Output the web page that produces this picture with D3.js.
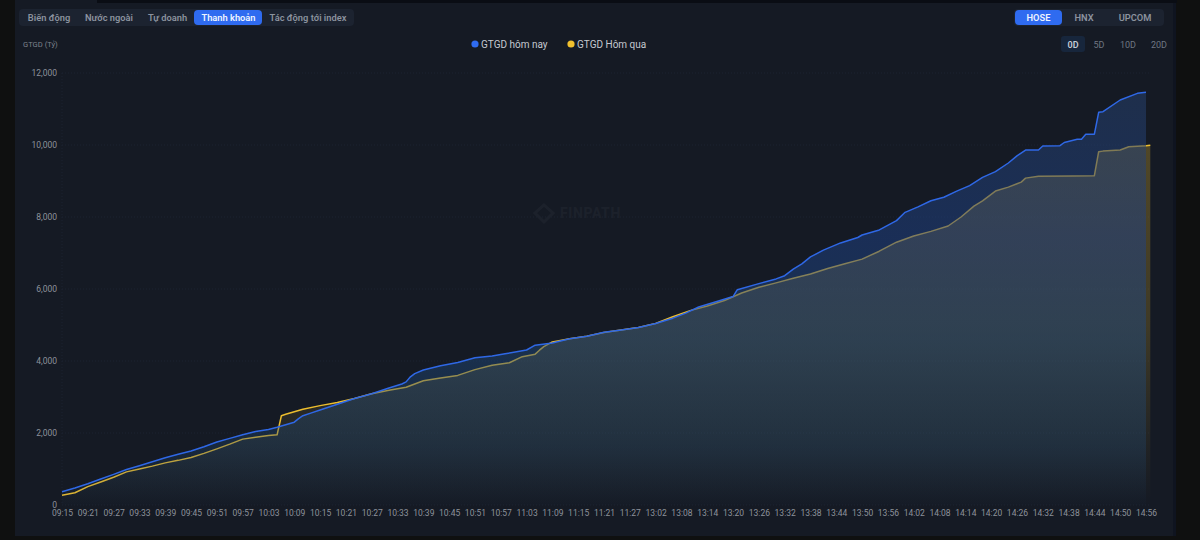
<!DOCTYPE html>
<html>
<head>
<meta charset="utf-8">
<script src="https://cdn.jsdelivr.net/npm/d3@7/dist/d3.min.js"></script>
<style>
html,body{margin:0;padding:0;background:#0f1010;width:1200px;height:540px;overflow:hidden}
svg{display:block;font-family:Roboto,"Noto Sans",sans-serif}
</style>
</head>
<body>
<svg id="chart" width="1200" height="540"></svg>
<script>
// Trading-session clock labels shown along the axis
const xTickLabels = ["09:15","09:21","09:27","09:33","09:39","09:45","09:51","09:57","10:03","10:09","10:15","10:21","10:27","10:33","10:39","10:45","10:51","10:57","11:03","11:09","11:15","11:21","11:27","13:02","13:08","13:14","13:20","13:26","13:32","13:38","13:44","13:50","13:56","14:02","14:08","14:14","14:20","14:26","14:32","14:38","14:44","14:50","14:56"];
const yTickValues = [0,2000,4000,6000,8000,10000,12000];

// Cumulative traded value today (billion VND)
const todayTimes = ["09:15","09:18","09:21","09:24","09:27","09:30","09:33","09:36","09:39","09:42","09:45","09:48","09:51","09:54","09:57","10:00","10:03","10:05","10:07","10:09","10:10","10:11","10:13","10:15","10:19","10:23","10:27","10:31","10:34","10:35","10:36","10:37","10:39","10:43","10:47","10:51","10:55","10:58","11:03","11:05","11:09","11:13","11:17","11:21","11:25","11:29","13:02","13:06","13:09","13:12","13:17","13:20","13:21","13:26","13:30","13:32","13:34","13:36","13:38","13:41","13:45","13:49","13:50","13:54","13:58","14:00","14:03","14:06","14:09","14:12","14:15","14:18","14:21","14:24","14:26","14:28","14:31","14:32","14:36","14:37","14:40","14:41","14:42","14:44","14:45","14:46","14:50","14:54","14:56"];
const todayValues = [370,470,590,720,850,985,1090,1200,1310,1410,1500,1620,1750,1850,1950,2040,2100,2160,2230,2300,2400,2480,2560,2640,2800,2960,3090,3250,3361,3420,3560,3650,3750,3870,3960,4090,4140,4200,4305,4440,4500,4620,4690,4800,4860,4930,5040,5190,5330,5500,5680,5790,5980,6150,6280,6370,6550,6700,6890,7080,7280,7430,7500,7640,7900,8130,8280,8450,8550,8720,8870,9100,9260,9500,9700,9860,9861,9972,9981,10070,10157,10160,10296,10300,10908,10926,11250,11435,11463];

// Cumulative traded value in the previous session (billion VND)
const yesterdayTimes = ["09:15","09:18","09:21","09:24","09:27","09:30","09:33","09:36","09:39","09:42","09:45","09:48","09:51","09:54","09:57","10:00","10:03","10:05","10:06","10:07","10:09","10:11","10:15","10:19","10:23","10:27","10:31","10:35","10:39","10:43","10:47","10:51","10:55","10:59","11:02","11:05","11:06","11:07","11:09","11:13","11:17","11:21","11:25","11:29","13:02","13:06","13:10","13:14","13:18","13:22","13:26","13:30","13:34","13:38","13:42","13:46","13:50","13:54","13:58","14:02","14:06","14:10","14:13","14:16","14:18","14:21","14:24","14:27","14:28","14:31","14:39","14:44","14:45","14:46","14:50","14:52","14:56","14:57"];
const yesterdayValues = [270,340,510,640,770,920,1000,1080,1170,1240,1320,1435,1560,1690,1830,1880,1930,1950,2480,2520,2590,2660,2760,2850,2960,3090,3190,3270,3450,3530,3600,3760,3880,3950,4120,4190,4300,4400,4530,4620,4690,4790,4860,4930,5040,5230,5400,5530,5680,5890,6050,6170,6300,6417,6570,6700,6830,7050,7300,7470,7600,7750,8000,8300,8450,8720,8830,8970,9080,9130,9139,9148,9814,9830,9861,9953,9981,9995];

// Horizontal position follows every traded minute of the two sessions
function sessionMinutes() {
  const out = [];
  const pad = n => String(n).padStart(2, "0");
  const add = (from, to) => {
    for (let m = from; m <= to; m++) out.push(pad(Math.floor(m / 60)) + ":" + pad(m % 60));
  };
  add(9 * 60 + 15, 11 * 60 + 30);
  add(13 * 60, 14 * 60 + 57);
  return out;
}

const W = 1200, H = 540;
const plot = { left: 62, right: 1150.3, top: 73, bottom: 505 };
const svg = d3.select("#chart");

const x = d3.scalePoint().domain(sessionMinutes()).range([plot.left, plot.right]);
const y = d3.scaleLinear().domain([0, 12000]).range([plot.bottom, plot.top]);

// Page frame
svg.append("rect").attr("width", W).attr("height", H).attr("fill", "#0f1010");
svg.append("rect").attr("x", 15).attr("y", 0).attr("width", 1161).attr("height", 536).attr("fill", "#0f1420");
svg.append("rect").attr("x", 15).attr("y", 0).attr("width", 1158).attr("height", 536).attr("fill", "#151a24");
svg.append("rect").attr("x", 97).attr("y", 0).attr("width", 1080).attr("height", 3).attr("fill", "#0a0d14");

// Tab groups
function tabGroup(box, tabs) {
  svg.append("rect").attr("x", box.x).attr("y", box.y).attr("width", box.w).attr("height", box.h)
    .attr("rx", 4).attr("fill", "#1c2330");
  tabs.forEach(t => {
    if (t.active) {
      svg.append("rect").attr("x", t.x0).attr("y", box.y + 1).attr("width", t.x1 - t.x0).attr("height", box.h - 2)
        .attr("rx", 4).attr("fill", "#2f6bf0");
    }
    svg.append("text").attr("x", t.cx).attr("y", box.y + box.h / 2 + 3.2)
      .attr("text-anchor", "middle").attr("font-size", 9.3).attr("font-weight", 600)
      .attr("fill", t.active ? "#eef3ff" : "#8b929e").text(t.label);
  });
}
tabGroup({ x: 19, y: 9, w: 335, h: 17 }, [
  { label: "Biến động", cx: 49 },
  { label: "Nước ngoài", cx: 109 },
  { label: "Tự doanh", cx: 167.5 },
  { label: "Thanh khoản", cx: 228.5, active: true, x0: 194, x1: 262 },
  { label: "Tác động tới index", cx: 308 }
]);
tabGroup({ x: 1014, y: 9, w: 150, h: 17 }, [
  { label: "HOSE", cx: 1038.5, active: true, x0: 1015, x1: 1062 },
  { label: "HNX", cx: 1084 },
  { label: "UPCOM", cx: 1135 }
]);

// Look-back range selector
svg.append("rect").attr("x", 1061).attr("y", 36).attr("width", 24).attr("height", 16).attr("rx", 3).attr("fill", "#17263c");
[["0D", 1073, true], ["5D", 1099, false], ["10D", 1128, false], ["20D", 1159, false]].forEach(([t, cx, on]) => {
  svg.append("text").attr("x", cx).attr("y", 47.5).attr("text-anchor", "middle").attr("font-size", 9)
    .attr("font-weight", on ? 600 : 400).attr("fill", on ? "#c4cbd6" : "#6f7682").text(t);
});

// Unit caption
svg.append("text").attr("x", 23).attr("y", 47).attr("font-size", 7.6).attr("fill", "#7d838d").text("GTGD (Tỷ)");

// Legend
[[475, "#2f6bf0", "GTGD hôm nay"], [571, "#f0c02e", "GTGD Hôm qua"]].forEach(([cx, color, label]) => {
  svg.append("circle").attr("cx", cx).attr("cy", 44).attr("r", 3.6).attr("fill", color);
  svg.append("text").attr("x", cx + 6).attr("y", 48).attr("font-size", 10).attr("fill", "#c5c9d0").text(label);
});

// Watermark
const mark = svg.append("g").attr("opacity", 0.04).attr("fill", "#c8d0dc");
mark.append("path").attr("d", d3.line()([[544, 205], [553, 213], [544, 222], [535, 213]]) + "Z")
  .attr("fill", "none").attr("stroke", "#c8d0dc").attr("stroke-width", 3);
mark.append("text").attr("x", 560).attr("y", 218).attr("font-size", 14).attr("font-weight", 700)
  .attr("letter-spacing", 0.6).text("FINPATH");

// Grid
const grid = svg.append("g");
grid.selectAll("line.h").data(yTickValues).join("line").attr("class", "h")
  .attr("x1", plot.left).attr("x2", plot.right)
  .attr("y1", d => y(d)).attr("y2", d => y(d))
  .attr("stroke", "#1c2330").attr("stroke-dasharray", "1 2");
grid.append("line").attr("x1", plot.left).attr("x2", plot.left)
  .attr("y1", plot.top).attr("y2", plot.bottom).attr("stroke", "#1c2330").attr("stroke-dasharray", "1 2");

// Fills fade toward the baseline
const defs = svg.append("defs");
function fade(id, y1, y2, stops) {
  const g = defs.append("linearGradient").attr("id", id).attr("gradientUnits", "userSpaceOnUse")
    .attr("x1", 0).attr("x2", 0).attr("y1", y1).attr("y2", y2);
  stops.forEach(([offset, color, alpha]) => {
    g.append("stop").attr("offset", offset).attr("stop-color", color).attr("stop-opacity", alpha);
  });
}
fade("fadeToday", y(11463), plot.bottom + 5, [[0, "#26406c", 0.55], [0.35, "#1f4185", 0.52], [0.6, "#1f4a80", 0.47], [0.85, "#1f4a78", 0.3], [1, "#1f4a78", 0]]);
fade("fadeYesterday", y(9995), plot.bottom, [[0, "#f0c02e", 0.27], [0.5, "#f0c02e", 0.19], [0.85, "#f0c02e", 0.05], [1, "#f0c02e", 0]]);

const yesterday = yesterdayTimes.map((t, i) => [t, yesterdayValues[i]]);
const today = todayTimes.map((t, i) => [t, todayValues[i]]);
const area = d3.area().x(d => x(d[0])).y0(plot.bottom).y1(d => y(d[1]));
const line = d3.line().x(d => x(d[0])).y(d => y(d[1]));

// The previous session is painted first, so today's fill veils it
svg.append("path").attr("d", area(yesterday)).attr("fill", "url(#fadeYesterday)");
svg.append("path").attr("d", line(yesterday)).attr("fill", "none").attr("stroke", "#ecbd2e").attr("stroke-width", 1.5).attr("stroke-linejoin", "round");
svg.append("path").attr("d", area(today)).attr("fill", "url(#fadeToday)");
svg.append("path").attr("d", line(today)).attr("fill", "none").attr("stroke", "#2f68e6").attr("stroke-width", 1.5).attr("stroke-linejoin", "round");

// Axes
const axisX = d3.axisBottom(x).tickValues(xTickLabels).tickSize(0).tickPadding(0);
const gx = svg.append("g").attr("transform", `translate(0,${plot.bottom + 5})`).call(axisX);
const axisY = d3.axisLeft(y).tickValues(yTickValues).tickFormat(d3.format(",")).tickSize(0).tickPadding(5);
const gy = svg.append("g").attr("transform", `translate(${plot.left},0)`).call(axisY);
[gx, gy].forEach(g => {
  g.select(".domain").remove();
  g.selectAll("text").attr("font-size", 8.5).attr("font-family", "Roboto,sans-serif").attr("fill", "#8d929b");
});
</script>
</body>
</html>
